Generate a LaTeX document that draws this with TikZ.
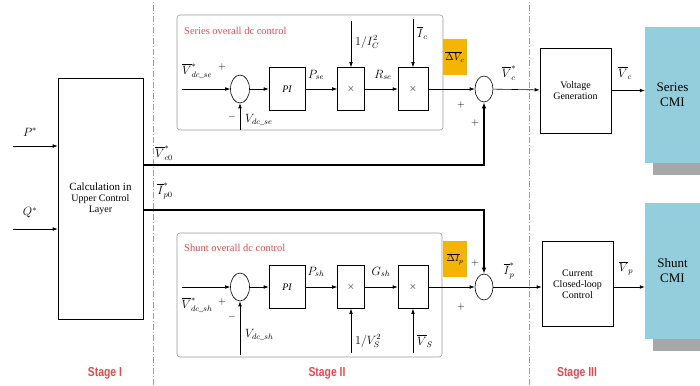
\documentclass[tikz,border=0pt]{standalone}
\usepackage{amsmath,amssymb}
\usepackage{fontspec}
\setmainfont{Liberation Serif}
\newfontfamily\stagefont[FakeStretch=0.8]{Liberation Sans}
\usetikzlibrary{arrows.meta,calc,shapes.geometric}
\definecolor{ctrlRed}{HTML}{E5484D}
\definecolor{deltaFill}{HTML}{F4B400}
\definecolor{cmiFill}{HTML}{94CDDC}
\definecolor{cmiShade}{HTML}{A8A8A8}
\definecolor{hair}{HTML}{9A9A9A}
\definecolor{stageGrey}{HTML}{A0A0A0}
\tikzset{
  block/.style={draw=black, fill=white, line width=.6pt, align=center,
    inner sep=1pt, font=\fontsize{10}{11}\selectfont},
  sumnode/.style={draw=black, ellipse, line width=.6pt, minimum width=19pt,
    minimum height=28pt, inner sep=0pt},
  panel/.style={draw=hair, rounded corners=3pt, line width=.6pt},
  deltabox/.style={fill=deltaFill, inner sep=1pt, minimum width=24pt,
    minimum height=36pt, font=\fontsize{10}{11}\selectfont},
  cmi/.style={fill=cmiFill, align=center, font=\fontsize{13}{15}\selectfont,
    minimum width=55pt, minimum height=136pt, inner sep=0pt},
  sig/.style={-{Latex[length=5pt,width=3.6pt]}, line width=.6pt},
  busline/.style={-{Latex[length=6pt,width=4.6pt]}, line width=2.5pt},
  sign/.style={font=\fontsize{10}{11}\selectfont, inner sep=0pt},
  lbl/.style={font=\fontsize{11.5}{12}\selectfont, inner sep=0pt},
  paneltitle/.style={text=ctrlRed, anchor=west, inner sep=0pt,
    font=\fontsize{10.5}{12}\selectfont},
  stagelabel/.style={text=ctrlRed, font=\stagefont\bfseries\fontsize{13}{15}\selectfont},
  stageline/.style={draw=stageGrey, dash pattern=on 6pt off 2pt on 1pt off 2pt,
    line width=.6pt}
}

\begin{document}
\begin{tikzpicture}[x=1pt,y=1pt]
\useasboundingbox (0,0) rectangle (700,385);

% ---------------------------------------------------------------------------
% Stage borders.
% ---------------------------------------------------------------------------
\draw[stageline] (153,0) -- (153,385);
\draw[stageline] (529,0) -- (529,385);
\node[stagelabel] (stageA) at (105,12) {Stage I};
\node[stagelabel] (stageB) at (327,12) {Stage II};
\node[stagelabel] (stageC) at (577,12) {Stage III};

% ---------------------------------------------------------------------------
% Stage I: upper control layer.
% ---------------------------------------------------------------------------
\node[block, minimum width=85pt, minimum height=241pt] (calc) at (100.5,186.5)
  {\fontsize{11}{13}\selectfont Calculation in\\Upper Control\\Layer};

\coordinate (pIn) at (13,239);
\coordinate (qIn) at (13,156);
\draw[sig] (pIn) -- (pIn -| calc.west);
\draw[sig] (qIn) -- (qIn -| calc.west);
\node[lbl] (pLbl) at (30,253) {$P^{*}$};
\node[lbl] (qLbl) at (30,172) {$Q^{*}$};

% ---------------------------------------------------------------------------
% Stage II: series overall dc control.
% ---------------------------------------------------------------------------
\node[panel, minimum width=266pt, minimum height=115pt] (panelSe) at (310,312.5) {};
\node[paneltitle] (titleSe) at (184,354) {Series overall dc control};

\node[sumnode] (sumSe) at (240,296) {};
\node[block, minimum width=36pt, minimum height=43pt] (piSe) at (287,296) {\itshape PI};
\node[block, minimum width=27pt, minimum height=43pt] (mulA) at (351,296) {$\times$};
\node[block, minimum width=30pt, minimum height=43pt] (mulB) at (413,296) {$\times$};
\node[deltabox] (dVc) at (455,328) {$\overline{\Delta V}_{\!c}$};

\coordinate (seIn) at (182,296);
\coordinate (seFb) at (240,255);
\coordinate (invIc) at (351,364);
\coordinate (icIn) at (413,366);
\draw[sig] (seIn) -- (sumSe);
\draw[sig] (seFb) -- (sumSe.south);
\draw[sig] (sumSe) -- (piSe);
\draw[sig] (piSe) -- (mulA);
\draw[sig] (mulA) -- (mulB);
\draw[sig] (invIc) -- (mulA.north);
\draw[sig] (icIn) -- (mulB.north);

\node[lbl] (vseRef) at (197,314) {$\overline{V}^{*}_{dc\_se}$};
\node[sign] (plusSe) at (222,318) {$+$};
\node[sign] (minusSe) at (232,268) {$-$};
\node[lbl, anchor=west] (vseLbl) at (245,265) {$V_{dc\_se}$};
\node[lbl] (pseLbl) at (316,310) {$P_{se}$};
\node[lbl, anchor=west] (invIcLbl) at (355,343) {$1/I_C^2$};
\node[lbl] (rseLbl) at (383,310) {$R_{se}$};
\node[lbl, anchor=west] (icLbl) at (417,352) {$\overline{I}_c$};

% series output path
\node[sumnode, minimum width=18pt, minimum height=26pt] (sumVc) at (484,296) {};
\node[block, minimum width=71pt, minimum height=85pt] (volGen) at (575.5,294.5)
  {Voltage\\Generation};
\node[cmi] (seCMI) at (672.5,290) {Series\\CMI};
\fill[cmiShade] ($(seCMI.south west)+(8,0)$) rectangle ($(seCMI.south east)+(0,-12)$);

\coordinate (vcRow) at (0,220);
\draw[sig] (mulB) -- (sumVc);
\draw[busline] (calc.east |- vcRow) -| (sumVc.south);
\draw[sig] (sumVc) -- (volGen);
\draw[sig] (volGen.east) -- (volGen.east -| seCMI.west);

\node[sign] (plusVcA) at (461,280) {$+$};
\node[sign] (plusVcB) at (475,262) {$+$};
\node[lbl] (vc0Lbl) at (164,232) {$\overline{V}^{*}_{c0}$};
\node[lbl] (vcRefLbl) at (509,312) {$\overline{V}^{*}_{c}$};
\node[lbl] (vcLbl) at (625,312) {$\overline{V}_{c}$};

% ---------------------------------------------------------------------------
% Stage II: shunt overall dc control.
% ---------------------------------------------------------------------------
\node[panel, minimum width=265pt, minimum height=124pt] (panelSh) at (309.5,90) {};
\node[paneltitle] (titleSh) at (184,137) {Shunt overall dc control};

\node[sumnode] (sumSh) at (240,98) {};
\node[block, minimum width=36pt, minimum height=43pt] (piSh) at (287,98) {\itshape PI};
\node[block, minimum width=27pt, minimum height=43pt] (mulC) at (351,98) {$\times$};
\node[block, minimum width=30pt, minimum height=43pt] (mulD) at (413,98) {$\times$};
\node[deltabox] (dIp) at (455,126) {$\overline{\Delta I}_{\!p}$};

\coordinate (shIn) at (182,98);
\coordinate (shFb) at (240,30);
\coordinate (invVs) at (351,32);
\coordinate (vsIn) at (413,32);
\draw[sig] (shIn) -- (sumSh);
\draw[sig] (shFb) -- (sumSh.south);
\draw[sig] (sumSh) -- (piSh);
\draw[sig] (piSh) -- (mulC);
\draw[sig] (mulC) -- (mulD);
\draw[sig] (invVs) -- (mulC.south);
\draw[sig] (vsIn) -- (mulD.south);

\node[lbl] (vshRef) at (197,80) {$\overline{V}^{*}_{dc\_sh}$};
\node[sign] (plusSh) at (222,83) {$+$};
\node[sign] (minusSh) at (232,68) {$-$};
\node[lbl, anchor=west] (vshLbl) at (245,50) {$V_{dc\_sh}$};
\node[lbl] (pshLbl) at (316,113) {$P_{sh}$};
\node[lbl, anchor=west] (invVsLbl) at (355,44) {$1/V_S^2$};
\node[lbl] (gshLbl) at (381,113) {$G_{sh}$};
\node[lbl, anchor=west] (vsLbl) at (417,44) {$\overline{V}_S$};

% shunt output path
\node[sumnode, minimum width=18pt, minimum height=26pt] (sumIp) at (484,98) {};
\node[block, minimum width=71pt, minimum height=85pt] (curCtl) at (577.5,101)
  {Current\\Closed-loop\\Control};
\node[cmi] (shCMI) at (672.5,114) {Shunt\\CMI};
\fill[cmiShade] ($(shCMI.south west)+(8,0)$) rectangle ($(shCMI.south east)+(0,-12)$);

\coordinate (ipRow) at (0,175);
\draw[sig] (mulD) -- (sumIp);
\draw[busline] (calc.east |- ipRow) -| (sumIp.north);
\draw[sig] (sumIp) -- (sumIp -| curCtl.west);
\draw[sig] (curCtl.east |- sumIp) -- (shCMI.west |- sumIp);

\node[sign] (plusIpA) at (461,78) {$+$};
\node[sign] (plusIpB) at (475,122) {$+$};
\node[lbl] (ip0Lbl) at (165,194) {$\overline{I}^{*}_{p0}$};
\node[lbl] (ipRefLbl) at (509,114) {$\overline{I}^{*}_{p}$};
\node[lbl] (vpLbl) at (626,117) {$\overline{V}_{p}$};

\end{tikzpicture}
\end{document}
